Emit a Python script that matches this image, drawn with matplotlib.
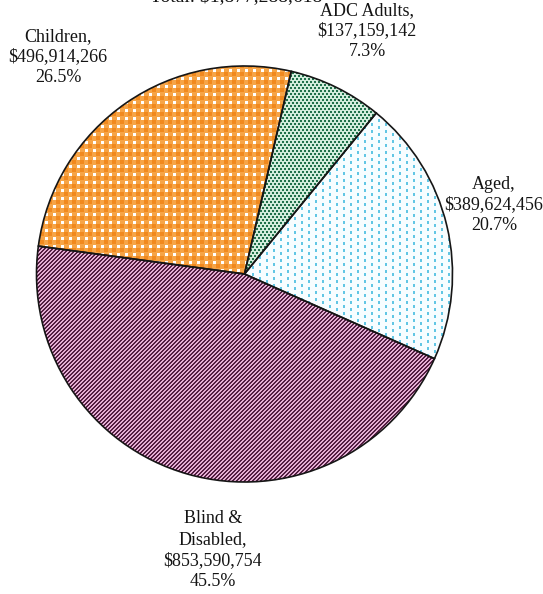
import numpy as np
import matplotlib
matplotlib.use("Agg")
import matplotlib.pyplot as plt
from matplotlib.colors import to_rgb

# Spending by eligibility group (clockwise from the top)
categories = ["ADC Adults", "Aged", "Blind &\nDisabled", "Children"]
amounts = [137159142, 389624456, 853590754, 496914266]
percents = [7.3, 20.7, 45.5, 26.5]

W, H, DPI = 543, 594, 100
fig = plt.figure(figsize=(W / DPI, H / DPI), dpi=DPI)
fig.patch.set_facecolor("white")
plt.rcParams["font.family"] = ["Liberation Serif", "DejaVu Serif"]

# pie placement in pixels (y measured from the top edge)
cx, cy, r = 244.5, 274.0, 208.0
ax = fig.add_axes([(cx - r) / W, (H - cy - r) / H, 2 * r / W, 2 * r / H])
wedges, _ = ax.pie(amounts, startangle=77, counterclock=False, radius=1.0,
                   wedgeprops=dict(facecolor="none", edgecolor="#161616",
                                   linewidth=1.2))
ax.set_xlim(-1, 1)
ax.set_ylim(-1, 1)
ax.set_facecolor("none")
ax.axis("off")

# pixel fill patterns for each wedge
yy, xx = np.mgrid[0:H, 0:W]


def canvas(bg):
    img = np.empty((H, W, 3))
    img[:] = to_rgb(bg)
    return img


# ADC Adults: staggered dark-green dots
adc = canvas("#d2ecdc")
row = yy // 3
adc[(((xx + (row % 2) * 2) % 4) < 2) & ((yy % 3) < 2)] = to_rgb("#20704b")

# Aged: short cyan dashes
aged = canvas("#f7fdff")
col = xx // 7
aged[((xx % 7) < 2) & (((yy + (col % 2) * 3) % 7) < 3)] = to_rgb("#62c6e4")

# Blind & Disabled: narrow diagonal stripes
blind = canvas("#e4aed3")
blind[((xx + yy) % 4) < 2] = to_rgb("#521d41")

# Children: orange gingham
child = canvas("#f6a446")
bx = (xx % 8) < 4
by = (yy % 8) < 4
child[bx & by] = to_rgb("#f1891e")
child[((xx % 8) >= 5) & ((yy % 8) >= 5)] = to_rgb("#ffffff")

for wedge, img in zip(wedges, [adc, aged, blind, child]):
    im = fig.figimage(img, xo=0, yo=0, origin="upper", zorder=-1)
    im.set_clip_path(wedge)

# slice labels
label_pos = [(367, 31), (494, 205), (213, 550), (58, 57)]
for name, amt, pct, (px, py) in zip(categories, amounts, percents, label_pos):
    txt = f"{name},\n${amt:,}\n{pct:.1f}%"
    fig.text(px / W, 1 - py / H, txt, ha="center", va="center",
             fontsize=13, linespacing=1.3, color="#141414")

# total heading, running off the top edge
fig.text(236 / W, 1 - 1.5 / H, f"Total: ${sum(amounts):,}", ha="center",
         va="baseline", fontsize=14, color="#141414")

fig.savefig("out.png", dpi=DPI)
